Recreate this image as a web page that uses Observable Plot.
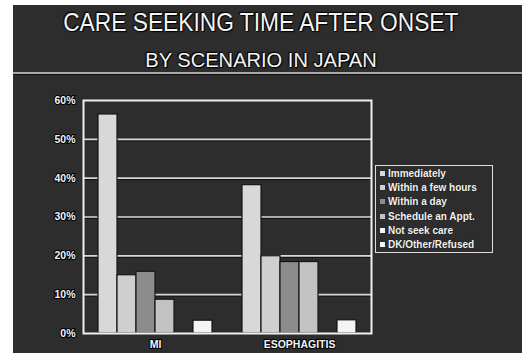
<!DOCTYPE html>
<html>
<head>
<meta charset="utf-8">
<script src="https://cdn.jsdelivr.net/npm/d3@7"></script>
<script src="https://cdn.jsdelivr.net/npm/@observablehq/plot@0.6"></script>
<style>
  html, body { margin: 0; padding: 0; background: #fff; width: 522px; height: 353px; overflow: hidden; }
  #slide { position: absolute; left: 13px; top: 5px; width: 509px; height: 348px; background: #2d2d2d; }
  .title { position: absolute; left: 0; width: 522px; text-align: center; color: #f4f4f4;
           font-family: "Liberation Sans", Arial, sans-serif; white-space: nowrap;
           text-shadow: 0 0 2px #000, 1px 1px 1px #000, -1px -1px 1px #000; }
  #t1 { top: 8px; font-size: 25px; transform: scaleX(0.91); transform-origin: 259px 0; }
  #t2 { top: 48px; font-size: 20.5px; transform: scaleX(0.98); transform-origin: 263px 0; }
  #rule { position: absolute; left: 13px; top: 72px; width: 509px; height: 2px; background: #a8a8a8; border-bottom: 1px solid #111; }
  #chart { position: absolute; left: 0; top: 0; }
  #legend { position: absolute; left: 375px; top: 165px; width: 118px; height: 88px; border: 1.5px solid #ddd;
            font-family: "Liberation Sans", Arial, sans-serif; font-weight: bold; font-size: 10px; color: #f4f4f4;
            box-sizing: border-box; padding: 1px 0 0 4px; }
  #legend .item { height: 14.2px; line-height: 14.2px; white-space: nowrap; text-shadow: 0 0 1px #000; }
  #legend .sw { display: inline-block; width: 5px; height: 5px; margin-right: 3px; vertical-align: 1px; }
</style>
</head>
<body>
<div id="slide"></div>
<div class="title" id="t1">CARE SEEKING TIME AFTER ONSET</div>
<div class="title" id="t2">BY SCENARIO IN JAPAN</div>
<div id="rule"></div>
<div id="chart"></div>
<div id="legend"></div>
<script>
const scenarios = ["MI", "ESOPHAGITIS"];
const series = ["Immediately", "Within a few hours", "Within a day", "Schedule an Appt.", "Not seek care", "DK/Other/Refused"];
const miValues = [56.4, 15.0, 15.9, 8.7, 0, 3.3];
const esoValues = [38.2, 19.9, 18.4, 18.4, 0, 3.4];
const yTicks = [0, 10, 20, 30, 40, 50, 60];
const colors = ["#d8d8d8", "#cfcfcf", "#8c8c8c", "#c2c2c2", "#f6f6f6", "#f4f4f4"];

const data = [];
series.forEach((s, i) => data.push({scenario: "MI", series: s, value: miValues[i]}));
series.forEach((s, i) => data.push({scenario: "ESOPHAGITIS", series: s, value: esoValues[i]}));

const chart = Plot.plot({
  width: 522,
  height: 353,
  marginLeft: 82,
  marginRight: 151,
  marginTop: 100,
  marginBottom: 20,
  style: {background: "transparent", color: "#f4f4f4", fontFamily: "Liberation Sans, Arial, sans-serif", fontWeight: "bold", fontSize: "10.5px"},
  facet: {data, x: "scenario"},
  fx: {domain: scenarios, padding: 0, label: null, tickSize: 0, tickPadding: 7},
  x: {domain: series, paddingInner: 0, paddingOuter: 0.76, axis: null},
  y: {domain: [0, 60], ticks: yTicks, tickSize: 0, tickPadding: 8, label: null, tickFormat: d => d + "%"},
  color: {domain: series, range: colors},
  marks: [
    Plot.ruleY(yTicks.slice(1, -1), {stroke: "#111", strokeWidth: 1, dy: 1.5}),
    Plot.ruleY(yTicks.slice(1, -1), {stroke: "#d6d6d6", strokeWidth: 1.6}),
    Plot.barY(data, {x: "series", y: "value", fill: "series", stroke: "#151515", strokeWidth: 1.2}),
    Plot.frame({stroke: "#f0f0f0", strokeWidth: 2, facet: "super"})
  ]
});
chart.querySelectorAll("text").forEach(t => { t.setAttribute("paint-order", "stroke"); t.setAttribute("stroke", "#000"); t.setAttribute("stroke-width", "2"); });
document.getElementById("chart").appendChild(chart);

const legend = document.getElementById("legend");
series.forEach((s, i) => {
  const d = document.createElement("div");
  d.className = "item";
  d.innerHTML = `<span class="sw" style="background:${colors[i]}"></span>${s}`;
  legend.appendChild(d);
});
</script>
</body>
</html>
